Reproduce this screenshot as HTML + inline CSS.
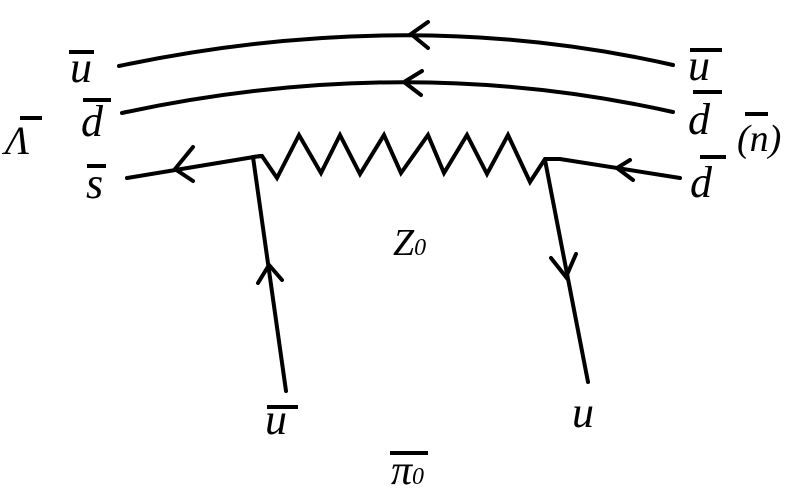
<!DOCTYPE html>
<html><head><style>
html,body{margin:0;padding:0;background:#fff;}
svg{display:block;}
text{font-family:"Liberation Serif","Times New Roman",serif;font-style:italic;fill:#000;}
</style></head><body>
<svg width="800" height="495" viewBox="0 0 800 495" xmlns="http://www.w3.org/2000/svg">
<g stroke="#000" stroke-width="4" fill="none" stroke-linecap="round" stroke-linejoin="miter">
<path d="M119,66 Q410,5 673,65"/>
<path d="M122,113 Q405,52 673,112"/>
<path d="M127,178 L260,156"/>
<path d="M253,157 L262,156 L277,178 L299,135 L321,173 L340,135 L360,174 L384,135 L401,173 L428,135 L444,173 L467,135 L487,174 L508,135 L530,182 L545,159 L560,159 L680,178"/>
<path d="M253,157 L286,391"/>
<path d="M545,160 L588,382"/>
<path d="M193,147 L175,169 L193,181"/>
<path d="M428,22 L411,34 L428,48"/>
<path d="M422,71 L404,82 L421,95"/>
<path d="M630,160 L617,168 L633,180"/>
<path d="M258,283 L269,265 L282,280"/>
<path d="M551,258 L566,277 L576,254"/>
</g>
<g stroke="#000" stroke-width="4">
<line x1="69" y1="52" x2="94" y2="52"/>
<line x1="83" y1="100" x2="111" y2="100"/>
<line x1="20" y1="118" x2="42" y2="118"/>
<line x1="87" y1="166" x2="106" y2="166"/>
<line x1="690" y1="50" x2="722" y2="50"/>
<line x1="693" y1="92" x2="722" y2="92"/>
<line x1="745" y1="114" x2="768" y2="114"/>
<line x1="700" y1="157" x2="726" y2="157"/>
<line x1="267" y1="407" x2="298" y2="407"/>
<line x1="390" y1="453" x2="428" y2="453"/>
</g>
<text x="70" y="82" font-size="44">u</text>
<text x="81" y="136" font-size="44">d</text>
<text x="5" y="154" font-size="40">Λ</text>
<text x="86" y="198" font-size="44">s</text>
<text x="688" y="80" font-size="44">u</text>
<text x="688" y="134" font-size="44">d</text>
<text x="737" y="151" font-size="38">(n)</text>
<text x="690" y="197" font-size="44">d</text>
<text x="393" y="255" font-size="38">Z<tspan font-size="24">0</tspan></text>
<text x="265" y="434" font-size="44">u</text>
<text x="572" y="427" font-size="44">u</text>
<text x="391" y="484" font-size="42">π<tspan font-size="24">0</tspan></text>
</svg>
</body></html>
